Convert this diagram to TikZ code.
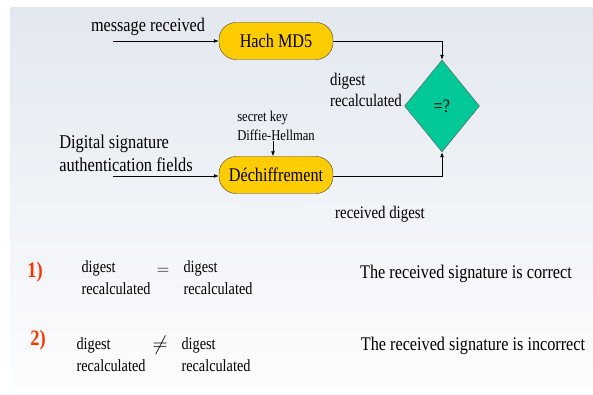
\documentclass[tikz,border=0pt]{standalone}
\usepackage{amsmath}
\usepackage{amssymb}
\usepackage{fontspec}
\setmainfont{Liberation Serif}[FakeStretch=0.84]
\usetikzlibrary{shapes.geometric,arrows.meta}
\definecolor{boxgold}{HTML}{FFCC00}
\definecolor{cmpgreen}{HTML}{00C896}
\definecolor{numred}{HTML}{FF3300}
\definecolor{bgtop}{HTML}{E3E8F0}
\definecolor{bgbottom}{HTML}{FCFDFE}

\begin{document}
\begin{tikzpicture}[x=1pt,y=-1pt,
    block/.style={draw=black!75,fill=boxgold,rounded corners=17pt,minimum width=114pt,minimum height=37pt,inner sep=0pt,font=\fontsize{19.3}{21}\selectfont},
    cmpbox/.style={draw=black!65,fill=cmpgreen,diamond,minimum width=75pt,minimum height=92pt,inner sep=0pt,font=\fontsize{19}{21}\selectfont},
    lbl/.style={align=left,inner sep=0pt},
    conn/.style={line width=0.8pt,-{Latex[length=5pt,width=4pt]}}]
    \useasboundingbox (0,0) rectangle (593,395);
    \shade [top color=bgtop,bottom color=bgbottom] (10,8) rectangle (593,395);

    % flow
    \node [block]   (hash) at (276,41)  {Hach MD5};
    \node [block]   (dech) at (276,175) {Déchiffrement};
    \node [cmpbox]  (cmp)  at (442,106) {=?};
    \coordinate (msgin) at (113,41);
    \coordinate (sigin) at (113,176);

    \node [lbl,font=\fontsize{19.3}{21}\selectfont] (msg) at (148,27) {message received};
    \node [lbl,font=\fontsize{19.5}{23}\selectfont] (sig) at (126,153) {Digital signature\\authentication fields};
    \node [lbl,font=\fontsize{15}{19}\selectfont] (key) at (276,126) {secret key\\Diffie-Hellman};
    \node [lbl,font=\fontsize{17.7}{21}\selectfont] (drc) at (366,90) {digest\\recalculated};
    \node [lbl,font=\fontsize{17.7}{20}\selectfont] (rdg) at (380,214) {received digest};

    \draw [conn] (msgin) -- (hash);
    \draw [conn] (sigin) -- (sigin -| dech.west);
    \draw [conn] ([xshift=-3pt]key.south) -- ([xshift=-3pt]key.south |- dech.north);
    \draw [conn] (hash.east) -| (cmp.north);
    \draw [conn] (dech.east |- sigin) -| (cmp.south);

    % results
    \begin{scope}[font=\fontsize{17}{22}\selectfont]
    \node [font=\fontsize{22}{24}\selectfont\bfseries,text=numred] (one) at (35,272) {1)};
    \node [lbl] (aone) at (116,278) {digest\\recalculated};
    \node (eq) at (163,271) {$=$};
    \node [lbl] (bone) at (218,278) {digest\\recalculated};
    \node [font=\fontsize{19.3}{21}\selectfont] (okmsg) at (466,274) {The received signature is correct};

    \node [font=\fontsize{22}{24}\selectfont\bfseries,text=numred] (two) at (38,340) {2)};
    \node [lbl] (atwo) at (111,355) {digest\\recalculated};
    \node [font=\fontsize{20}{22}\selectfont] (neq) at (160,345) {$\neq$};
    \node [lbl] (btwo) at (216,355) {digest\\recalculated};
    \node [font=\fontsize{19.3}{21}\selectfont] (badmsg) at (473,346) {The received signature is incorrect};
    \end{scope}
\end{tikzpicture}
\end{document}
